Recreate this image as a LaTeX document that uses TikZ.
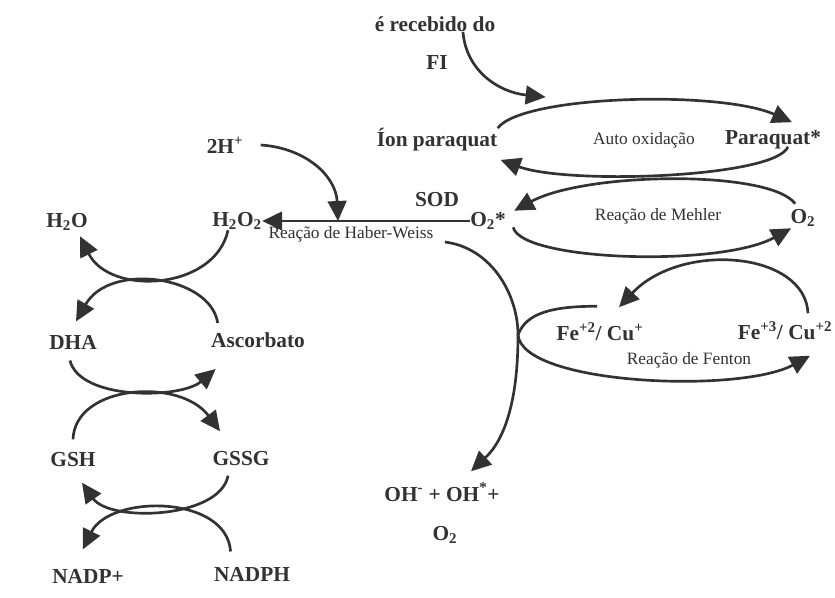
\documentclass[tikz,border=0pt]{standalone}
\usepackage{fontspec}
\setmainfont{Liberation Serif}
\usetikzlibrary{arrows.meta}

\definecolor{ink}{RGB}{50,50,50}
\tikzset{every picture/.style={line width=0.75pt}}
\tikzset{
  chem/.style={inner sep=0pt, text=ink, font=\fontsize{16}{18}\selectfont\bfseries},
  lbl/.style={inner sep=0pt, text=ink, font=\fontsize{13}{15}\selectfont},
  flow/.style={draw=ink, line width=2pt, -{Triangle[length=15pt,width=14pt]}},
  plain/.style={draw=ink, line width=2pt}
}

\begin{document}
\begin{tikzpicture}[x=0.75pt,y=0.75pt,yscale=-1,xscale=1]
\useasboundingbox[fill=white] (0,0) rectangle (835,598);

% Text Node
\node[chem] (rec) at (435,24) {é\ recebido do};
\node[chem] (fi) at (437,63) {FI};
\node[chem] (ion) at (437,140) {Íon paraquat};
\node[chem] (pq) at (773,140) {Paraquat*};
\node[lbl] (auto) at (644,140) {Auto oxidação};
\node[chem] (h2p) at (225,145) {2H\textsuperscript{+}};
\node[chem] (sod) at (437,200) {SOD};
\node[chem] (o2s) at (488,221) {O\textsubscript{2}*};
\node[lbl] (mehler) at (658,216) {Reação de Mehler};
\node[chem] (o2) at (803,218) {O\textsubscript{2}};
\node[chem] (h2o2) at (237,221) {H\textsubscript{2}O\textsubscript{2}};
\node[lbl] (haber) at (351,234) {Reação de Haber-Weiss};
\node[chem] (h2o) at (67,222) {H\textsubscript{2}O};
\node[chem] (dha) at (73,342) {DHA};
\node[chem] (asc) at (258,340) {Ascorbato};
\node[chem] (gsh) at (73,460) {GSH};
\node[chem] (gssg) at (241,459) {GSSG};
\node[chem] (nadp) at (88,576) {NADP+};
\node[chem] (nadph) at (252,574) {NADPH};
\node[chem] (fe2) at (600,332) {Fe\textsuperscript{+2}/ Cu\textsuperscript{+}};
\node[chem] (fe3) at (785,331) {Fe\textsuperscript{+3}/ Cu\textsuperscript{+2}};
\node[lbl] (fenton) at (689,360) {Reação de Fenton};
\node[chem] (oh) at (442,492) {OH\textsuperscript{-} + OH\textsuperscript{*}+};
\node[chem] (o2b) at (445,535) {O\textsubscript{2}};

\coordinate (hw) at (338,221);
\coordinate (fork) at (518,335);

%Paraquat cycle
\draw[flow] ([shift={(28,0)}]rec.south) .. controls +(3,38) and +(-48,-5) .. ([shift={(48,-31)}]ion.north east);
\draw[flow] (ion.north east) .. controls +(25,-33) and +(-72,-32) .. ([shift={(19,-8)}]pq.north);
\draw[flow] ([shift={(15,-3)}]pq.south) .. controls +(-13,31) and +(67,25) .. ([shift={(3,8)}]ion.south east);
\draw[flow] ([shift={(5,-5)}]o2.north west) .. controls +(-25,-34) and +(72,-39) .. ([shift={(8,-1)}]o2s.north east);
\draw[flow] ([shift={(7,-3)}]o2s.south east) .. controls +(8,34) and +(-71,39) .. ([shift={(1,1)}]o2.south west);

%SOD line
\draw[flow] (o2s.west) -- (h2o2.east);
\draw[flow] ([shift={(17,0)}]h2p.east) .. controls +(45,3) and +(-2,-45) .. (hw);

%Fenton
\draw[flow] ([shift={(23,-8)}]fe3.north) .. controls +(-3,-62) and +(62,-66) .. ([shift={(19,-15)}]fe2.north);
\draw[plain] ([shift={(-3,-16)}]fe2.north) .. controls +(-45,0) and +(8,-22) .. (fork);
\draw[flow] ([shift={(11,8)}]haber.east) .. controls +(47,6) and +(0,-40) .. (fork) .. controls +(0,65) and +(34,-32) .. ([shift={(29,-11)}]oh.north);
\draw[flow] (fork) .. controls +(5,50) and +(-70,38) .. ([shift={(25,15)}]fe3.south);

%Ascorbate - glutathione cycle
\draw[flow] ([shift={(-9,0)}]h2o2.south) .. controls +(-13,60) and +(30,60) .. ([shift={(13,5)}]h2o.south);
\draw[flow] ([shift={(7,-9)}]asc.north west) .. controls +(-7,-47) and +(34,-60) .. ([shift={(3,-13)}]dha.north);
\draw[flow] ([shift={(-3,11)}]dha.south) .. controls +(10,40) and +(-35,30) .. ([shift={(5,21)}]asc.south west);
\draw[flow] ([shift={(0,-13)}]gsh.north) .. controls +(2,-55) and +(-40,-54) .. ([shift={(8,-20)}]gssg.north west);
\draw[flow] ([shift={(16,9)}]gssg.south west) .. controls +(-8,43) and +(28,40) .. ([shift={(9,15)}]gsh.south);
\draw[flow] ([shift={(17,-15)}]nadph.north west) .. controls +(-4,-57) and +(27,-55) .. ([shift={(31,-19)}]nadp.north west);

\end{tikzpicture}
\end{document}
